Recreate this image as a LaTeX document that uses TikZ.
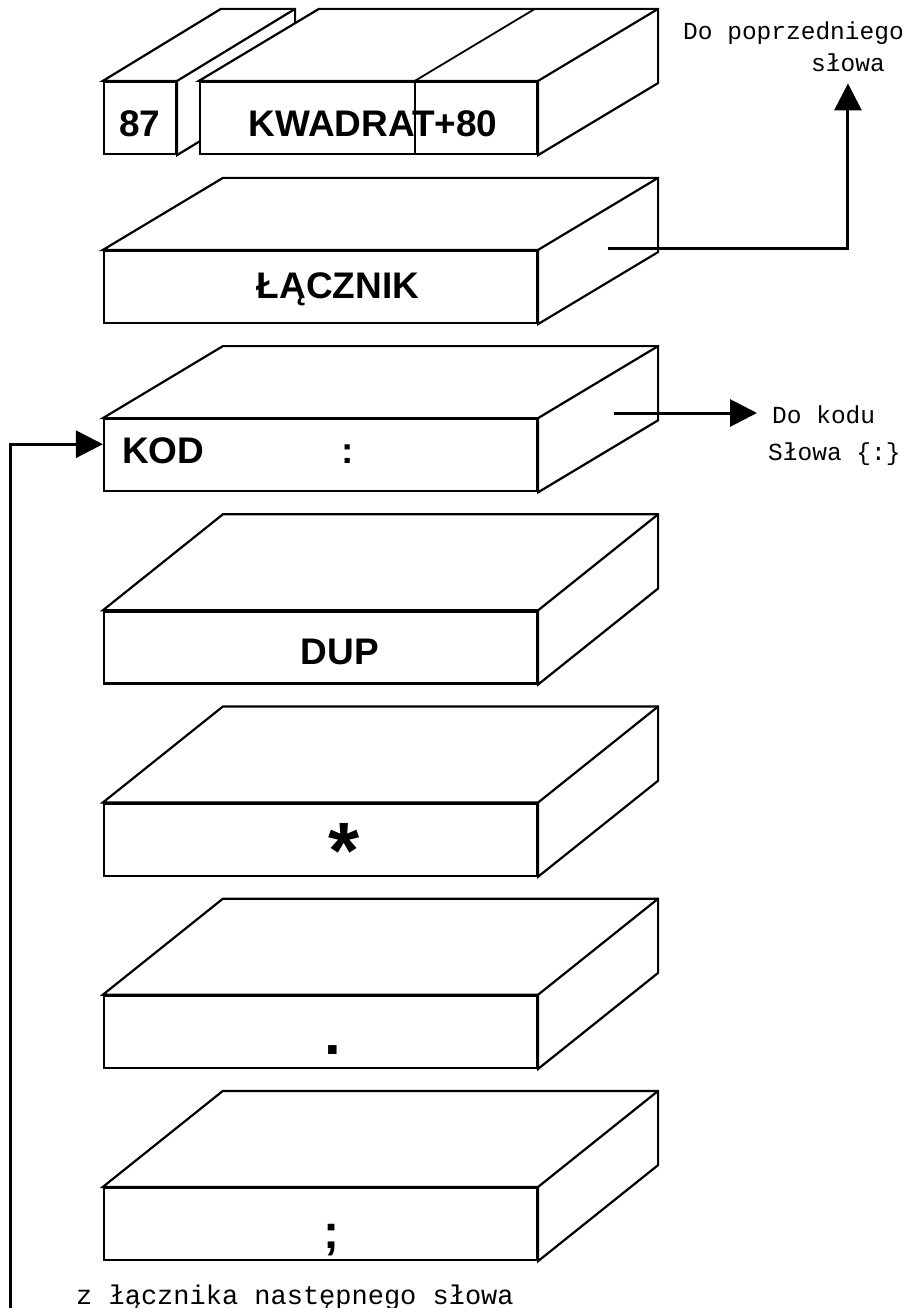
\documentclass[tikz,border=0pt]{standalone}
\usepackage{fontspec}
\setmainfont{Liberation Sans}
\newfontfamily\mono{Liberation Mono}
\usetikzlibrary{arrows.meta,positioning,calc}

\tikzset{
  slab/.style={draw, fill=white, line width=2.2pt, inner sep=0pt, minimum height=72pt},
  word/.style={font=\bfseries\fontsize{37}{40}\selectfont, inner sep=0pt, anchor=base},
  note/.style={font=\mono\fontsize{24.5}{28}\selectfont, inner sep=0pt, anchor=base west},
  link/.style={line width=3pt, -{Triangle[length=27pt,width=27pt]}}
}

% top and right face of a slab: node, depth x, depth y
\newcommand{\slablid}[3]{
  \draw[fill=white, line width=2.2pt] (#1.north west) -- ++(#2,-#3) -- ($(#1.north east)+(#2,-#3)$)
    -- ($(#1.south east)+(#2,-#3)$) -- (#1.south east) -- (#1.north east) -- cycle;
  \draw[line width=2.2pt] (#1.north east) -- ++(#2,-#3);
}

\begin{document}
\begin{tikzpicture}[x=1pt, y=-1pt]
  \useasboundingbox (0,0) rectangle (913,1308);

  % name field
  \node[slab, minimum width=72pt] (n87) at (140,118) {};
  \slablid{n87}{118}{72}
  \node[slab, minimum width=337pt] (kwadrat) at (368.5,118) {};
  \slablid{kwadrat}{120}{72}
  \draw[line width=1.4pt] ([xshift=216pt]kwadrat.north west) -- ([xshift=216pt]kwadrat.south west);
  \draw[line width=1.8pt] ([xshift=216pt]kwadrat.north west) -- ++(120,-72);
  \node[word] (t87) at (140,137) {87};
  \node[word] (tkwadrat) at (373,137) {KWADRAT+80};

  % link and code field
  \node[slab, minimum width=433pt] (lacznik) at (320.5,287) {};
  \slablid{lacznik}{120}{72}
  \node[word] (tlacznik) at (338,298) {ŁĄCZNIK};

  \node[slab, minimum width=433pt] (kod) [below=94pt of lacznik] {};
  \slablid{kod}{120}{72}
  \node[word, anchor=base west] (tkod) at (122,463) {KOD};
  \node[word] (tcolon) at (348,463) {:};

  % parameter field
  \node[slab, minimum width=433pt] (dup) [below=118pt of kod] {};
  \slablid{dup}{120}{96}
  \node[word] (tdup) at (340,664) {DUP};

  \node[slab, minimum width=433pt] (mul) [below=118pt of dup] {};
  \slablid{mul}{120}{96}
  \node[word, font=\bfseries\fontsize{80}{80}\selectfont] (tmul) at (344,878) {*};

  \node[slab, minimum width=433pt] (dot) [below=118pt of mul] {};
  \slablid{dot}{120}{96}
  \node[word, font=\bfseries\fontsize{60}{60}\selectfont] (tdot) at (333,1054) {.};

  \node[slab, minimum width=433pt] (semi) [below=118pt of dot] {};
  \slablid{semi}{120}{96}
  \node[word, font=\bfseries\fontsize{48}{48}\selectfont] (tsemi) at (331,1248) {;};

  % notes
  \node[note] (prevword) at (683,40) {Do poprzedniego};
  \node[note] (prevslowa) at (811,72) {słowa};
  \node[note] (dokodu) at (772,423) {Do kodu};
  \node[note] (dokodu2) at (768,460) {Słowa \{:\}};
  \node[note, font=\mono\fontsize{27}{30}\selectfont] (nextword) at (76,1304) {z łącznika następnego słowa};

  \coordinate (lacznikOut) at (608,248);
  \coordinate (kodOut) at (614,413);
  \coordinate (nextIn) at (10,1320);

  \draw[link, shorten >=11pt] (lacznikOut) -| (prevslowa.south);
  \draw[link, shorten >=15pt] (kodOut) -- (kodOut -| dokodu.west);
  \draw[link] (nextIn) |- ([yshift=11pt]kod.west);
\end{tikzpicture}
\end{document}
